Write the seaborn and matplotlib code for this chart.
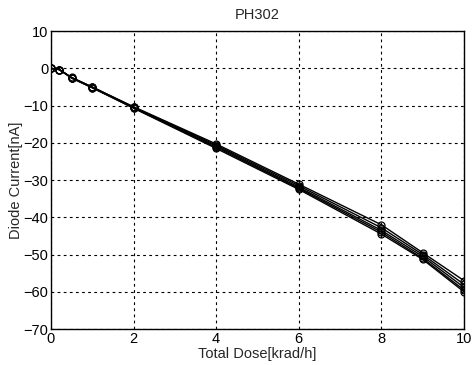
import matplotlib
matplotlib.use("Agg")
import matplotlib.pyplot as plt
import seaborn as sns
import pandas as pd

dose = [0, 0.2, 0.5, 1, 2, 4, 6, 8, 9, 10]
s1 = [0, -0.3, -2.4, -5.0, -10.3, -20.3, -31.1, -42.0, -49.5, -57.0]
s2 = [0, -0.3, -2.5, -5.0, -10.4, -20.6, -31.5, -42.8, -50.0, -58.0]
s3 = [0, -0.3, -2.5, -5.1, -10.5, -20.9, -31.9, -43.5, -50.5, -58.8]
s4 = [0, -0.3, -2.6, -5.2, -10.6, -21.2, -32.2, -44.0, -51.0, -59.5]
s5 = [0, -0.3, -2.6, -5.2, -10.7, -21.5, -32.5, -44.5, -51.3, -60.0]
series = {"s1": s1, "s2": s2, "s3": s3, "s4": s4, "s5": s5}

rows = []
for name, vals in series.items():
    for x, y in zip(dose, vals):
        rows.append({"dose": x, "current": y, "series": name})
df = pd.DataFrame(rows)

sns.set_style("white")
plt.rcParams["font.family"] = ["Liberation Sans", "DejaVu Sans"]

fig = plt.figure(figsize=(4.72, 3.65), dpi=100)
ax = fig.add_axes([0.108, 0.0986, 0.875, 0.816])

sns.lineplot(data=df, x="dose", y="current", hue="series",
             palette=["black"] * 5, marker="o", markersize=5,
             markerfacecolor="none", markeredgecolor="black",
             markeredgewidth=0.9, linewidth=1.0, legend=False, ax=ax,
             estimator=None, sort=False)

ax.set_xlim(0, 10)
ax.set_ylim(-70, 10)
ax.set_xticks([0, 2, 4, 6, 8, 10])
ax.set_yticks(list(range(-70, 11, 10)))
ax.grid(True, color="black", linestyle=(0, (2.5, 3)), linewidth=0.8)
for sp in ax.spines.values():
    sp.set_color("black")
    sp.set_linewidth(1.0)
ax.tick_params(direction="in", length=4, color="black", labelsize=10.5,
               labelcolor="black", pad=2)
ax.set_title("PH302", fontsize=10.5, pad=9)
ax.set_xlabel("Total Dose[krad/h]", fontsize=10.5, labelpad=1)
ax.set_ylabel("Diode Current[nA]", fontsize=10.5, labelpad=0)

fig.savefig("out.png", dpi=100)
